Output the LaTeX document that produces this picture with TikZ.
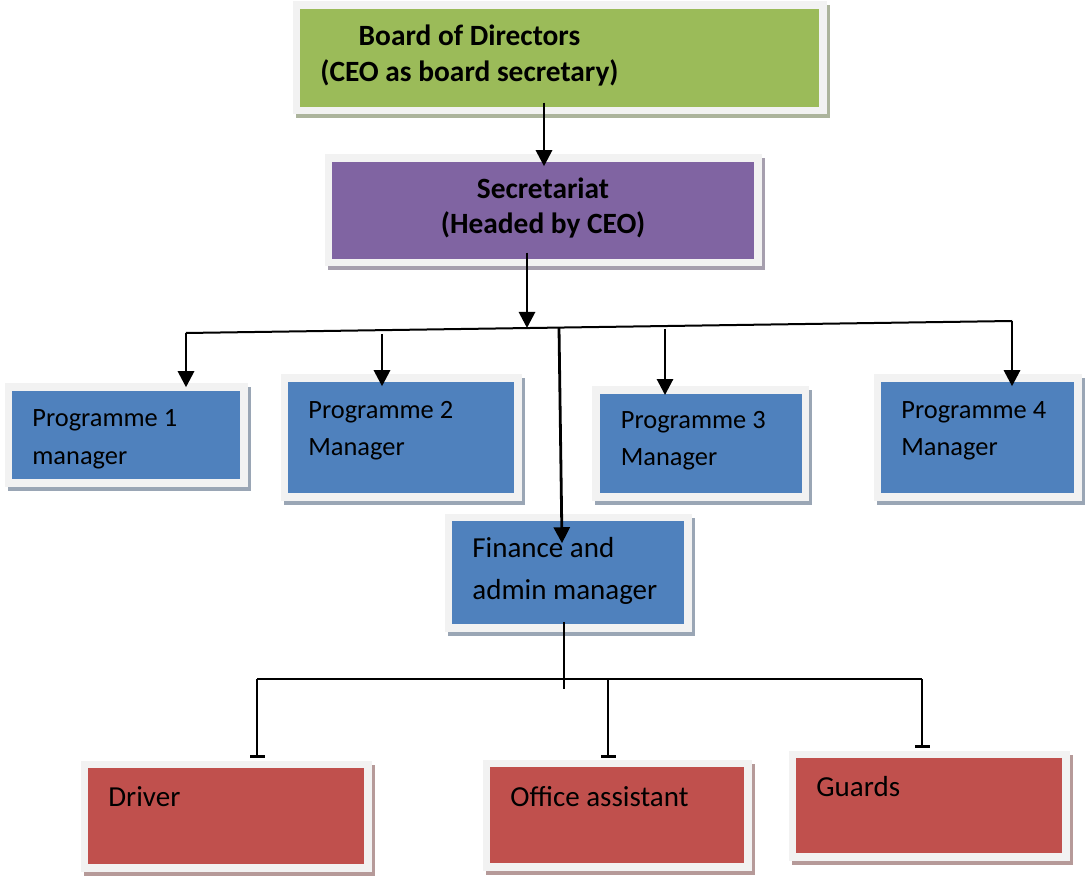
\documentclass[tikz,border=0pt]{standalone}
\usepackage{fontspec}
\setmainfont{Carlito}
\usetikzlibrary{arrows.meta,shadows}
\definecolor{boardgreen}{HTML}{9BBB59}
\definecolor{secpurple}{HTML}{8064A2}
\definecolor{progblue}{HTML}{4F81BD}
\definecolor{staffred}{HTML}{C0504D}
\definecolor{framegray}{HTML}{F2F2F2}
\tikzset{
 unit/.style={draw=framegray,line width=3.75pt,outer sep=0pt,inner sep=0pt,fill=#1,
              drop shadow={shadow xshift=1.5pt,shadow yshift=-2pt,opacity=1,
                           fill=#1!35!gray!70!white,draw=#1!35!gray!70!white,line width=3.75pt}},
 head/.style={anchor=base,align=center,inner sep=0pt,font=\fontsize{14.7}{18}\selectfont\bfseries},
 role/.style={anchor=base west,align=left,inner sep=0pt,font=\fontsize{14.5}{21}\selectfont},
 progtxt/.style={role,font=\fontsize{13.2}{18.5}\selectfont},
 arrow/.style={-{Triangle[length=8pt,width=8pt]},line width=1.4pt},
 bus/.style={line width=1pt},
 tee/.style={-{Bar[width=7.5pt]},line width=1.4pt},
}

\begin{document}
\begin{tikzpicture}[x=0.5pt,y=-0.5pt]
\useasboundingbox (0,0) rectangle (1085,876);
% board and secretariat
\node[unit=boardgreen,minimum width=263.25pt,minimum height=52.75pt] (board) at (559.5,58) {};
\node[unit=secpurple,minimum width=214.75pt,minimum height=52.25pt] (secr) at (543,210.5) {};
\node[head] (boardtxt) at ([shift={(-90,76.75)}]board.north) {Board of Directors\\(CEO as board secretary)};
\node[head,font=\fontsize{14.7}{17.5}\selectfont\bfseries] (secrtxt) at ([shift={(0,75.75)}]secr.north) {Secretariat\\(Headed by CEO)};
% programme managers
\node[unit=progblue,minimum width=117.75pt,minimum height=47.75pt] (prog1) at (126,435) {};
\node[unit=progblue,minimum width=116.75pt,minimum height=59.25pt] (prog2) at (401,437.5) {};
\node[unit=progblue,minimum width=104.75pt,minimum height=53.25pt] (prog3) at (700.5,443.5) {};
\node[unit=progblue,minimum width=100.25pt,minimum height=59.25pt] (prog4) at (977.5,437.5) {};
\node[progtxt] (prog1txt) at ([shift={(23.75,76.75)}]prog1.north west) {Programme 1\\manager};
\node[progtxt] (prog2txt) at ([shift={(23.75,76.75)}]prog2.north west) {Programme 2\\Manager};
\node[progtxt] (prog3txt) at ([shift={(24.75,75.75)}]prog3.north west) {Programme 3\\Manager};
\node[progtxt] (prog4txt) at ([shift={(23.75,76.75)}]prog4.north west) {Programme 4\\Manager};
% finance and support staff
\node[unit=progblue,minimum width=119.75pt,minimum height=55.25pt] (fin) at (568,572.5) {};
\node[role] (fintxt) at ([shift={(23.75,81.75)}]fin.north west) {Finance and\\admin manager};
\node[unit=staffred,minimum width=141.75pt,minimum height=51.75pt] (driver) at (226,816) {};
\node[unit=staffred,minimum width=130.75pt,minimum height=51.75pt] (office) at (617,815) {};
\node[unit=staffred,minimum width=136.75pt,minimum height=51.25pt] (guards) at (929,805.5) {};
\node[role] (drivertxt) at ([shift={(23.75,41.75)}]driver.north west) {Driver};
\node[role] (officetxt) at ([shift={(23.75,42.75)}]office.north west) {Office assistant};
\node[role] (guardstxt) at ([shift={(23.75,41.75)}]guards.north west) {Guards};

\coordinate (busL) at (186,333);
\coordinate (busR) at (1012,321);
\coordinate (tapSec) at (527,328);
\coordinate (tapFin) at (559,328);
\coordinate (tap2) at (382,334);
\coordinate (tap3) at (665,329);
\coordinate (finTip) at ([shift={(-6,26)}]fin.north);
\coordinate (finEnd) at (564,689);
\coordinate (staffL) at (257,679);
\coordinate (staffM) at (608,679);
\coordinate (staffR) at (922,679);

\draw[arrow] ([shift={(-15.5,-8)}]board.south) -- ([shift={(1,8)}]secr.north);
\draw[arrow] ([shift={(-16,-10)}]secr.south) -- (tapSec);
\draw[bus] (busL) -- (busR);
\draw[arrow] (busL) -- (busL |- prog1.north);
\draw[arrow,shorten >=-4pt] (tap2) -- (tap2 |- prog2.north);
\draw[arrow,shorten >=-2.4pt] (tap3) -- (tap3 |- prog3.north);
\draw[arrow,shorten >=-4pt] (busR) -- (busR |- prog4.north);
\draw[arrow] (tapFin) -- (finTip);

\draw[line width=1.4pt] ([shift={(-4,-6)}]fin.south) -- (finEnd);
\draw[bus] (staffL) -- (staffR);
\draw[tee,shorten >=3.1pt] (staffL) -- (staffL |- driver.north);
\draw[tee,shorten >=2.6pt] (staffM) -- (staffM |- office.north);
\draw[tee,shorten >=3.1pt] (staffR) -- (staffR |- guards.north);
\end{tikzpicture}
\end{document}
